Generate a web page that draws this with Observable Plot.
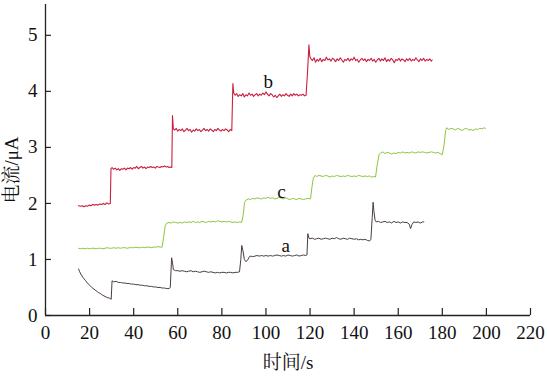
<!DOCTYPE html>
<html><head><meta charset="utf-8">
<script src="https://cdn.jsdelivr.net/npm/d3@7"></script>
<script src="https://cdn.jsdelivr.net/npm/@observablehq/plot@0.6"></script>
<style>body{margin:0;background:#fff}
#chart svg text{font-family:"Liberation Serif","Noto Serif CJK SC",serif;}</style>
</head><body><div id="chart"></div>
<script>
const xTicks = [0,20,40,60,80,100,120,140,160,180,200,220];
const yTicks = [0,1,2,3,4,5];
const curveNames = ["a","b","c"];
const labelX = [109, 101, 107];
const labelY = [1.25, 4.17, 2.2];

const seriesA = [[15,0.83],[15.5,0.78],[16,0.74],[17,0.68],[18,0.63],[19,0.58],[20,0.54],[21,0.50],[22,0.47],[23,0.44],[24,0.41],[25,0.39],[26,0.36],[27,0.34],[28,0.32],[29,0.31],[29.8,0.29],[30.2,0.62],[31,0.60],[32,0.61],[33,0.59],[34,0.59],[35,0.58],[36,0.58],[37,0.57],[38,0.57],[39,0.56],[40,0.56],[41,0.55],[42,0.55],[43,0.54],[44,0.54],[45,0.53],[46,0.53],[47,0.52],[48,0.52],[49,0.51],[50,0.51],[51,0.50],[52,0.50],[53,0.49],[54,0.49],[55,0.48],[56,0.48],[56.6,0.50],[57.2,1.03],[57.6,0.95],[58,0.82],[59,0.80],[60,0.80],[61,0.79],[62,0.80],[63,0.79],[64,0.78],[65,0.79],[66,0.80],[67,0.78],[68,0.79],[69,0.78],[70,0.77],[71,0.78],[72,0.79],[73,0.78],[74,0.77],[75,0.78],[76,0.77],[77,0.76],[78,0.77],[79,0.76],[80,0.77],[81,0.77],[82,0.76],[83,0.77],[84,0.77],[85,0.76],[86,0.77],[87,0.77],[88,0.78],[88.6,1.0],[89,1.25],[89.6,1.15],[90.2,1.00],[91,0.96],[91.8,1.00],[92.5,1.05],[93.2,1.06],[94,1.05],[95,1.06],[96,1.07],[97,1.06],[98,1.07],[99,1.06],[100,1.07],[101,1.06],[102,1.07],[103,1.06],[104,1.07],[105,1.08],[106,1.07],[107,1.06],[108,1.07],[109,1.06],[110,1.08],[111,1.07],[112,1.06],[113,1.07],[114,1.08],[115,1.06],[116,1.07],[117,1.08],[118,1.07],[118.6,1.08],[119,1.46],[119.5,1.38],[120,1.37],[121,1.38],[122,1.36],[123,1.37],[124,1.38],[125,1.36],[126,1.37],[127,1.38],[128,1.37],[129,1.36],[130,1.38],[131,1.37],[132,1.39],[133,1.37],[134,1.36],[135,1.38],[136,1.37],[137,1.36],[138,1.38],[139,1.37],[140,1.36],[141,1.37],[142,1.35],[143,1.36],[144,1.35],[145,1.36],[146,1.34],[147,1.33],[147.6,1.36],[148.2,1.75],[148.6,2.02],[149,1.85],[149.5,1.70],[150,1.67],[151,1.68],[152,1.66],[153,1.67],[154,1.68],[155,1.66],[156,1.67],[157,1.65],[158,1.68],[159,1.66],[160,1.67],[161,1.65],[162,1.67],[163,1.66],[164,1.66],[165,1.63],[165.6,1.55],[166.2,1.62],[167,1.67],[168,1.66],[169,1.67],[170,1.65],[171,1.67],[171.6,1.67]];

const seriesB = [[15,1.96],[15.8,1.95],[16.6,1.96],[17.4,1.94],[18.2,1.96],[19,1.95],[19.8,1.97],[20.6,1.96],[21.4,1.98],[22.2,1.97],[23,1.98],[23.8,1.97],[24.6,1.99],[25.4,1.98],[26.2,2.00],[27,1.98],[27.8,2.01],[28.6,1.99],[29.4,2.00],[29.7,2.62],[30.2,2.64],[30.9,2.61],[31.6,2.63],[32.3,2.60],[33,2.62],[33.7,2.59],[34.4,2.62],[35.1,2.61],[35.8,2.63],[36.5,2.60],[37.2,2.63],[37.9,2.62],[38.6,2.64],[39.3,2.61],[40,2.64],[40.7,2.63],[41.4,2.66],[42.1,2.62],[42.8,2.64],[43.5,2.66],[44.2,2.63],[44.9,2.65],[45.6,2.62],[46.3,2.65],[47,2.64],[47.7,2.66],[48.4,2.64],[49.1,2.65],[49.8,2.63],[50.5,2.66],[51.2,2.65],[51.9,2.64],[52.6,2.66],[53.3,2.65],[54,2.67],[54.7,2.65],[55.4,2.66],[56.1,2.64],[56.8,2.65],[57.3,2.64],[57.6,3.57],[58,3.33],[58.6,3.31],[59.3,3.34],[60,3.29],[60.7,3.32],[61.4,3.30],[62.1,3.33],[62.8,3.28],[63.5,3.31],[64.2,3.34],[64.9,3.30],[65.6,3.32],[66.3,3.27],[67,3.31],[67.7,3.29],[68.4,3.33],[69.1,3.30],[69.8,3.32],[70.5,3.28],[71.2,3.31],[71.9,3.34],[72.6,3.30],[73.3,3.32],[74,3.29],[74.7,3.33],[75.4,3.31],[76.1,3.28],[76.8,3.32],[77.5,3.30],[78.2,3.34],[78.9,3.31],[79.6,3.29],[80.3,3.32],[81,3.30],[81.7,3.33],[82.4,3.31],[83.1,3.28],[83.8,3.32],[84.5,3.30],[85,4.14],[85.4,3.97],[86,3.93],[86.7,3.96],[87.4,3.91],[88.1,3.94],[88.8,3.92],[89.5,3.96],[90.2,3.90],[90.9,3.94],[91.6,3.92],[92.3,3.97],[93,3.93],[93.7,3.95],[94.4,3.91],[95.1,3.94],[95.8,3.96],[96.5,3.92],[97.2,3.95],[97.9,3.93],[98.6,3.97],[99.3,3.94],[100,3.99],[100.7,3.95],[101.4,3.92],[102.1,3.96],[102.8,3.94],[103.5,3.90],[104.2,3.93],[104.9,3.89],[105.6,3.92],[106.3,3.95],[107,3.91],[107.7,3.94],[108.4,3.92],[109.1,3.96],[109.8,3.93],[110.5,3.91],[111.2,3.95],[111.9,3.92],[112.6,3.96],[113.3,3.93],[114,3.95],[114.7,3.92],[115.4,3.94],[116.1,3.93],[116.8,3.95],[117.5,3.92],[118.2,3.93],[118.8,4.30],[119.5,4.83],[119.9,4.62],[120.4,4.58],[121.1,4.55],[121.8,4.60],[122.5,4.52],[123.2,4.57],[123.9,4.54],[124.6,4.59],[125.3,4.53],[126,4.57],[126.7,4.55],[127.4,4.61],[128.1,4.56],[128.8,4.58],[129.5,4.54],[130.2,4.59],[130.9,4.57],[131.6,4.53],[132.3,4.58],[133,4.55],[133.7,4.60],[134.4,4.56],[135.1,4.52],[135.8,4.57],[136.5,4.55],[137.2,4.59],[137.9,4.54],[138.6,4.58],[139.3,4.56],[140,4.61],[140.7,4.55],[141.4,4.57],[142.1,4.52],[142.8,4.56],[143.5,4.59],[144.2,4.55],[144.9,4.58],[145.6,4.53],[146.3,4.57],[147,4.55],[147.7,4.59],[148.4,4.54],[149.1,4.57],[149.8,4.52],[150.5,4.56],[151.2,4.59],[151.9,4.54],[152.6,4.58],[153.3,4.55],[154,4.60],[154.7,4.53],[155.4,4.57],[156.1,4.54],[156.8,4.59],[157.5,4.56],[158.2,4.51],[158.9,4.57],[159.6,4.55],[160.3,4.59],[161,4.54],[161.7,4.58],[162.4,4.56],[163.1,4.53],[163.8,4.58],[164.5,4.55],[165.2,4.59],[165.9,4.54],[166.6,4.57],[167.3,4.55],[168,4.60],[168.7,4.56],[169.4,4.53],[170.1,4.58],[170.8,4.55],[171.5,4.59],[172.2,4.54],[172.9,4.57],[173.6,4.55],[174.3,4.58],[175,4.54],[175.4,4.56]];

const seriesC = [[15,1.20],[16,1.19],[17,1.20],[18,1.19],[19,1.20],[20,1.19],[21,1.20],[22,1.20],[23,1.19],[24,1.20],[25,1.20],[26,1.19],[27,1.20],[28,1.21],[29,1.20],[30,1.20],[31,1.21],[32,1.20],[33,1.21],[34,1.20],[35,1.21],[36,1.21],[37,1.20],[38,1.21],[39,1.21],[40,1.21],[41,1.22],[42,1.21],[43,1.21],[44,1.22],[45,1.21],[46,1.22],[47,1.22],[48,1.21],[49,1.22],[50,1.22],[51,1.23],[52,1.22],[52.9,1.22],[53.6,1.40],[54.3,1.60],[55,1.65],[56,1.66],[57,1.65],[58,1.67],[59,1.66],[60,1.65],[61,1.66],[62,1.65],[63,1.67],[64,1.66],[65,1.67],[66,1.66],[67,1.68],[68,1.66],[69,1.67],[70,1.66],[71,1.68],[72,1.67],[73,1.66],[74,1.68],[75,1.67],[76,1.68],[77,1.67],[78,1.69],[79,1.68],[80,1.67],[81,1.68],[82,1.67],[83,1.68],[84,1.67],[85,1.66],[86,1.67],[87,1.66],[88,1.67],[89,1.66],[89.7,1.80],[90.3,2.02],[91,2.06],[92,2.08],[93,2.07],[94,2.09],[95,2.08],[96,2.10],[97,2.09],[98,2.08],[99,2.10],[100,2.09],[101,2.11],[102,2.09],[103,2.10],[104,2.08],[105,2.09],[106,2.11],[107,2.09],[108,2.08],[109,2.10],[110,2.08],[111,2.07],[112,2.09],[113,2.08],[114,2.07],[115,2.09],[116,2.08],[117,2.07],[118,2.08],[119,2.09],[120.2,2.08],[120.9,2.30],[121.5,2.45],[122.3,2.50],[123,2.48],[124,2.50],[125,2.49],[126,2.48],[127,2.50],[128,2.49],[129,2.47],[130,2.49],[131,2.48],[132,2.50],[133,2.49],[134,2.48],[135,2.49],[136,2.48],[137,2.50],[138,2.49],[139,2.48],[140,2.49],[141,2.48],[142,2.50],[143,2.49],[144,2.48],[145,2.49],[146,2.48],[147,2.49],[148,2.47],[149,2.48],[149.7,2.47],[150.5,2.70],[151.3,2.87],[152,2.90],[153,2.92],[154,2.89],[155,2.91],[156,2.90],[157,2.88],[158,2.90],[159,2.89],[160,2.91],[161,2.90],[162,2.92],[163,2.90],[164,2.91],[165,2.90],[166,2.92],[167,2.91],[168,2.90],[169,2.92],[170,2.91],[171,2.92],[172,2.91],[173,2.90],[174,2.91],[175,2.92],[176,2.91],[177,2.90],[178,2.91],[179,2.89],[180,2.87],[180.8,3.05],[181.5,3.30],[182,3.35],[183,3.32],[184,3.34],[185,3.33],[186,3.31],[187,3.34],[188,3.32],[189,3.30],[190,3.33],[191,3.34],[192,3.31],[193,3.32],[194,3.30],[195,3.33],[196,3.32],[197,3.34],[198,3.33],[199,3.35],[199.6,3.34]];

const xLabel = "时间/s";
const yLabel = "电流/μA";

const serif = "Liberation Serif";
const colA = "#4a3e3e", colB = "#c9203f", colC = "#8cc63e";
const labelRows = curveNames.map((t, i) => ({t, x: labelX[i], y: labelY[i]}));

const chart = Plot.plot({
  width: 547, height: 376,
  marginLeft: 45, marginRight: 17, marginTop: 4, marginBottom: 61,
  style: {background: "#fff", color: "#111"},
  x: {domain: [0, 220]},
  y: {domain: [0, 5.55]},
  marks: [
    Plot.axisX(xTicks, {tickSize: 0, tickPadding: 10, fontSize: 19, fontFamily: serif, tickFormat: d => String(d), label: null}),
    Plot.axisY(yTicks, {tickSize: 0, tickPadding: 8, fontSize: 19, fontFamily: serif, tickFormat: d => String(d), label: null}),
    Plot.ruleX(xTicks, {x: d => d, y1: 0, y2: 0.125, stroke: "#222", strokeWidth: 1.2}),
    Plot.ruleY(yTicks, {y: d => d, x1: 0, x2: 2.7, stroke: "#222", strokeWidth: 1.2}),
    Plot.ruleX([0], {stroke: "#222", strokeWidth: 1.3}),
    Plot.ruleY([0], {stroke: "#222", strokeWidth: 1.3}),
    Plot.line(seriesC, {x: d => d[0], y: d => d[1], stroke: colC, strokeWidth: 1}),
    Plot.line(seriesA, {x: d => d[0], y: d => d[1], stroke: colA, strokeWidth: 1}),
    Plot.line(seriesB, {x: d => d[0], y: d => d[1], stroke: colB, strokeWidth: 1.1}),
    Plot.text(labelRows, {x: "x", y: "y", text: "t", fontSize: 19, fontFamily: serif, fill: "#111"}),
    Plot.text([xLabel], {frameAnchor: "bottom", lineAnchor: "middle", textAnchor: "middle", dy: 47, fontSize: 19, fontFamily: serif, fill: "#111"}),
    Plot.text([yLabel], {frameAnchor: "left", textAnchor: "middle", lineAnchor: "middle", rotate: -90, dx: -34, dy: 10, fontSize: 19, fontFamily: serif, fill: "#111"})
  ]
});
document.getElementById("chart").appendChild(chart);
d3.select(chart).selectAll("text").style("font-family", "'Liberation Serif','Noto Serif CJK SC',serif");
</script>
</body></html>
